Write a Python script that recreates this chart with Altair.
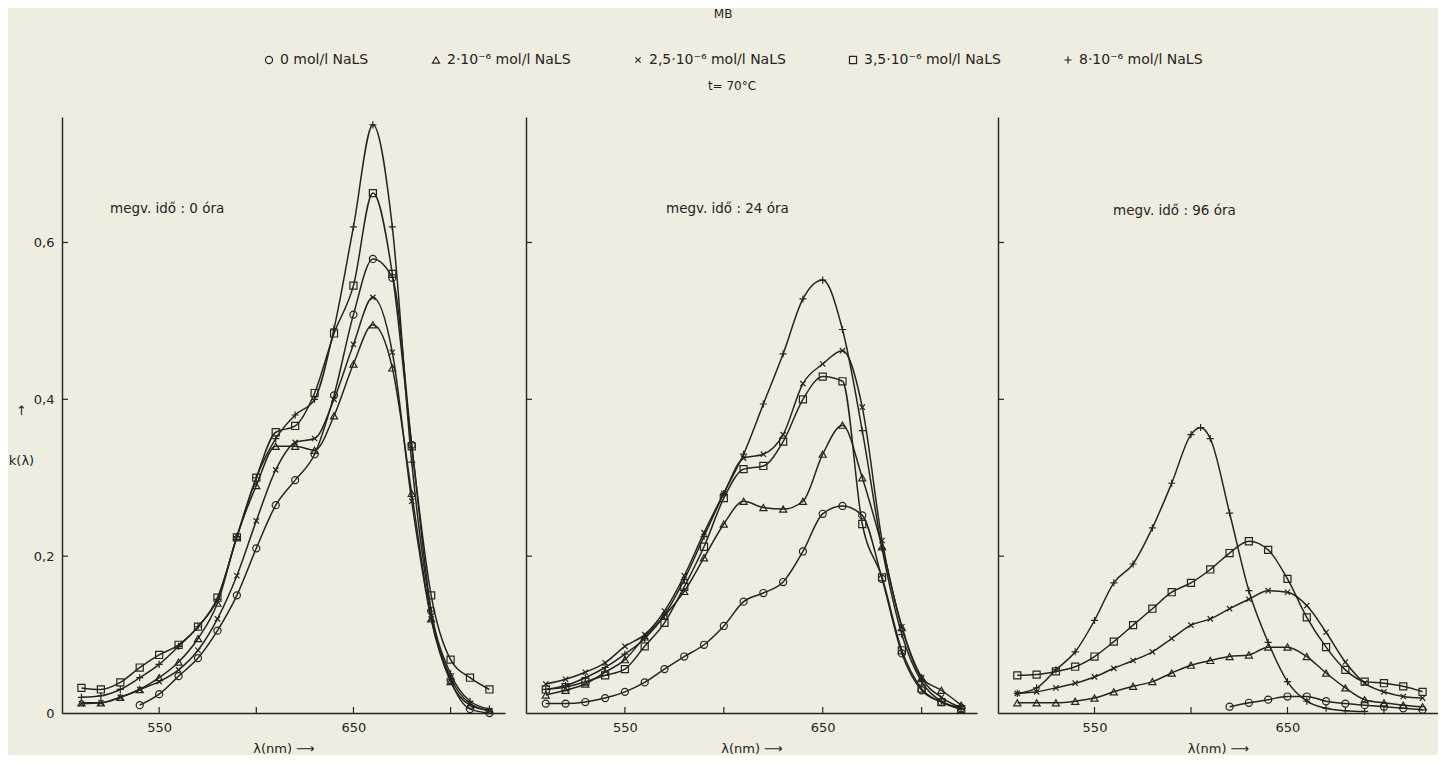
import altair as alt
import pandas as pd

INK = "#262420"
PAPER = "#efede0"
FONT = "DejaVu Sans"

# ---------------- data ----------------
SERIES = ["0 mol/l NaLS", "2·10⁻⁶ mol/l NaLS", "2,5·10⁻⁶ mol/l NaLS",
          "3,5·10⁻⁶ mol/l NaLS", "8·10⁻⁶ mol/l NaLS"]
SHAPES = ["circle", "triangle-up",
          "M-0.75,-0.75L0.75,0.75M-0.75,0.75L0.75,-0.75",
          "square", "M-1,0L1,0M0,-1L0,1"]
PANEL_LABELS = ["megv. idő : 0 óra", "megv. idő : 24 óra", "megv. idő : 96 óra"]

NM10 = [510, 520, 530, 540, 550, 560, 570, 580, 590, 600, 610,
        620, 630, 640, 650, 660, 670, 680, 690, 700, 710, 720]

# panel 1 : 0 óra
P1_CIRCLE_NM = [540, 550, 560, 570, 580, 590, 600, 610, 620, 630,
                640, 650, 660, 670, 680, 690, 700, 710, 720]
P1_CIRCLE = [0.010, 0.024, 0.047, 0.070, 0.105, 0.150, 0.210, 0.265, 0.297, 0.330,
             0.405, 0.508, 0.579, 0.555, 0.342, 0.130, 0.042, 0.005, 0.000]
P1_TRI = [0.013, 0.013, 0.020, 0.030, 0.045, 0.065, 0.095, 0.140, 0.225, 0.290, 0.340,
          0.340, 0.335, 0.379, 0.445, 0.495, 0.440, 0.280, 0.120, 0.040, 0.010, 0.003]
P1_X = [0.012, 0.013, 0.020, 0.030, 0.040, 0.055, 0.080, 0.120, 0.175, 0.245, 0.310,
        0.345, 0.350, 0.400, 0.470, 0.530, 0.460, 0.270, 0.120, 0.045, 0.012, 0.003]
P1_SQ = [0.032, 0.030, 0.039, 0.058, 0.074, 0.087, 0.110, 0.147, 0.224, 0.300, 0.358,
         0.366, 0.408, 0.484, 0.545, 0.663, 0.560, 0.340, 0.150, 0.068, 0.045, 0.030]
P1_PLUS = [0.020, 0.022, 0.030, 0.045, 0.062, 0.085, 0.110, 0.145, 0.225, 0.300, 0.350,
           0.380, 0.400, 0.490, 0.620, 0.750, 0.620, 0.320, 0.130, 0.050, 0.015, 0.005]

# panel 2 : 24 óra
P2_CIRCLE = [0.012, 0.012, 0.014, 0.019, 0.027, 0.039, 0.056, 0.072, 0.087, 0.111, 0.142,
             0.153, 0.167, 0.206, 0.254, 0.264, 0.252, 0.171, 0.076, 0.029, 0.014, 0.006]
P2_TRI = [0.023, 0.029, 0.037, 0.052, 0.068, 0.097, 0.124, 0.155, 0.198, 0.241, 0.270,
          0.262, 0.260, 0.270, 0.330, 0.367, 0.300, 0.212, 0.109, 0.045, 0.029, 0.010]
P2_X = [0.037, 0.043, 0.052, 0.064, 0.085, 0.100, 0.130, 0.175, 0.230, 0.280, 0.325,
        0.330, 0.355, 0.420, 0.445, 0.462, 0.390, 0.220, 0.110, 0.045, 0.020, 0.007]
P2_SQ = [0.030, 0.033, 0.040, 0.048, 0.056, 0.085, 0.115, 0.161, 0.212, 0.274, 0.311,
         0.315, 0.346, 0.400, 0.429, 0.423, 0.241, 0.173, 0.080, 0.031, 0.014, 0.005]
P2_PLUS = [0.030, 0.035, 0.045, 0.058, 0.075, 0.095, 0.125, 0.170, 0.225, 0.280, 0.330,
           0.394, 0.458, 0.528, 0.552, 0.489, 0.360, 0.210, 0.100, 0.040, 0.015, 0.005]

# panel 3 : 96 óra
P3_CIRCLE_NM = [620, 630, 640, 650, 660, 670, 680, 690, 700, 710, 720]
P3_CIRCLE = [0.008, 0.013, 0.017, 0.021, 0.021, 0.015, 0.012, 0.010, 0.008, 0.006, 0.004]
P3_TRI = [0.013, 0.013, 0.013, 0.015, 0.019, 0.027, 0.034, 0.040, 0.051, 0.061, 0.067,
          0.072, 0.074, 0.084, 0.084, 0.072, 0.051, 0.032, 0.017, 0.013, 0.010, 0.008]
P3_X = [0.025, 0.027, 0.032, 0.038, 0.046, 0.057, 0.067, 0.078, 0.095, 0.112, 0.120,
        0.133, 0.145, 0.156, 0.154, 0.137, 0.103, 0.065, 0.038, 0.027, 0.021, 0.019]
P3_SQ = [0.048, 0.049, 0.053, 0.059, 0.072, 0.091, 0.112, 0.133, 0.154, 0.166, 0.183,
         0.204, 0.219, 0.208, 0.171, 0.122, 0.084, 0.055, 0.040, 0.038, 0.034, 0.027]
P3_PLUS_NM = [510, 520, 530, 540, 550, 560, 570, 580, 590, 600, 605, 610,
              620, 630, 640, 650, 660, 670, 680, 690]
P3_PLUS = [0.025, 0.032, 0.055, 0.078, 0.118, 0.166, 0.190, 0.236, 0.293, 0.355, 0.364, 0.350,
           0.255, 0.156, 0.090, 0.040, 0.015, 0.006, 0.003, 0.002]

X_TICKS = [550, 600, 650, 700]
Y_TICKS = [0.2, 0.4, 0.6]

PANEL_DATA = [
    [(P1_CIRCLE_NM, P1_CIRCLE), (NM10, P1_TRI), (NM10, P1_X), (NM10, P1_SQ), (NM10, P1_PLUS)],
    [(NM10, P2_CIRCLE), (NM10, P2_TRI), (NM10, P2_X), (NM10, P2_SQ), (NM10, P2_PLUS)],
    [(P3_CIRCLE_NM, P3_CIRCLE), (NM10, P3_TRI), (NM10, P3_X), (NM10, P3_SQ), (P3_PLUS_NM, P3_PLUS)],
]

rows = []
for p, series_list in enumerate(PANEL_DATA):
    for s, (xs, ks) in enumerate(series_list):
        for xv, kv in zip(xs, ks):
            rows.append({"panel": p, "series": SERIES[s], "nm": xv, "k": kv})
df = pd.DataFrame(rows)

H = 596
WIDTHS = [443, 451, 440]
LABEL_POS = [(48, 92), (140, 92), (115, 94)]

xscale = alt.Scale(domain=[500, 728], nice=False, zero=False)
yscale = alt.Scale(domain=[0, 0.76], nice=False)


def panel(i):
    d = df[df.panel == i]
    first = i == 0
    xaxis = alt.Axis(values=X_TICKS,
                     labelExpr="datum.value == 550 || datum.value == 650 ? datum.label : ''",
                     title="λ(nm) ⟶", ticks=False, grid=False, labelPadding=8,
                     titlePadding=8)
    if first:
        yaxis = alt.Axis(values=[0] + Y_TICKS, ticks=False, grid=False,
                         labelExpr="datum.value == 0 ? '0' : replace(format(datum.value, '.1f'), '.', ',')",
                         labelPadding=8, title=["↑", "k(λ)"], titleAngle=0,
                         titleAlign="center", titleBaseline="middle",
                         titleX=-41, titleY=293, titleFontSize=13, titleLineHeight=50)
    else:
        yaxis = alt.Axis(values=[0] + Y_TICKS, ticks=False, grid=False, labels=False,
                         title=None)
    x = alt.X("nm:Q", scale=xscale, axis=xaxis)
    y = alt.Y("k:Q", scale=yscale, axis=yaxis)

    lines = alt.Chart(d).mark_line(interpolate="monotone", color=INK, strokeWidth=1.5).encode(
        x=x, y=y, detail="series:N")
    pts = alt.Chart(d).mark_point(filled=False, size=50, strokeWidth=1.2, color=INK, opacity=1).encode(
        x=x, y=y,
        shape=alt.Shape("series:N", scale=alt.Scale(domain=SERIES, range=SHAPES),
                        legend=alt.Legend(title="t= 70°C") if first else None))
    ytick = alt.Chart(pd.DataFrame({"k": Y_TICKS})).mark_rule(color=INK, strokeWidth=1.2).encode(
        y=alt.Y("k:Q", scale=yscale), x=alt.value(0), x2=alt.value(6))
    xtick = alt.Chart(pd.DataFrame({"nm": X_TICKS})).mark_rule(color=INK, strokeWidth=1.2).encode(
        x=alt.X("nm:Q", scale=xscale), y=alt.value(H), y2=alt.value(H - 6))
    lx, ly = LABEL_POS[i]
    label = alt.Chart(pd.DataFrame({"t": [PANEL_LABELS[i]]})).mark_text(
        align="left", baseline="middle", fontSize=13.5, color=INK, font=FONT).encode(
        x=alt.value(lx), y=alt.value(ly), text="t:N")
    return alt.layer(lines, pts, ytick, xtick, label).properties(width=WIDTHS[i], height=H)


chart = alt.hconcat(panel(0), panel(1), panel(2), spacing=20).resolve_scale(
    shape="shared"
).properties(
    title=alt.TitleParams(text="MB", anchor="middle", fontSize=12,
                          fontWeight="normal", offset=32, color=INK, font=FONT),
    background=PAPER,
    padding={"left": 0, "right": 0, "top": 0, "bottom": 0},
).configure_view(stroke=None).configure_axis(
    domainColor=INK, domainWidth=1.4, labelColor=INK, titleColor=INK,
    labelFont=FONT, titleFont=FONT, labelFontSize=13, titleFontSize=13,
    titleFontWeight="normal"
).configure_legend(
    orient="none", legendX=200, legendY=-64, direction="horizontal", columns=5,
    titleOrient="bottom", titleAnchor="middle", titleFontWeight="normal",
    titleFontSize=12, titleColor=INK, titleFont=FONT, titlePadding=14,
    labelFont=FONT, labelFontSize=14, labelColor=INK, columnPadding=60,
    symbolStrokeColor=INK, symbolFillColor="transparent", symbolSize=50,
    symbolStrokeWidth=1.2, labelLimit=300
)

chart.save("out.html", embed_options={"renderer": "svg", "actions": False})
